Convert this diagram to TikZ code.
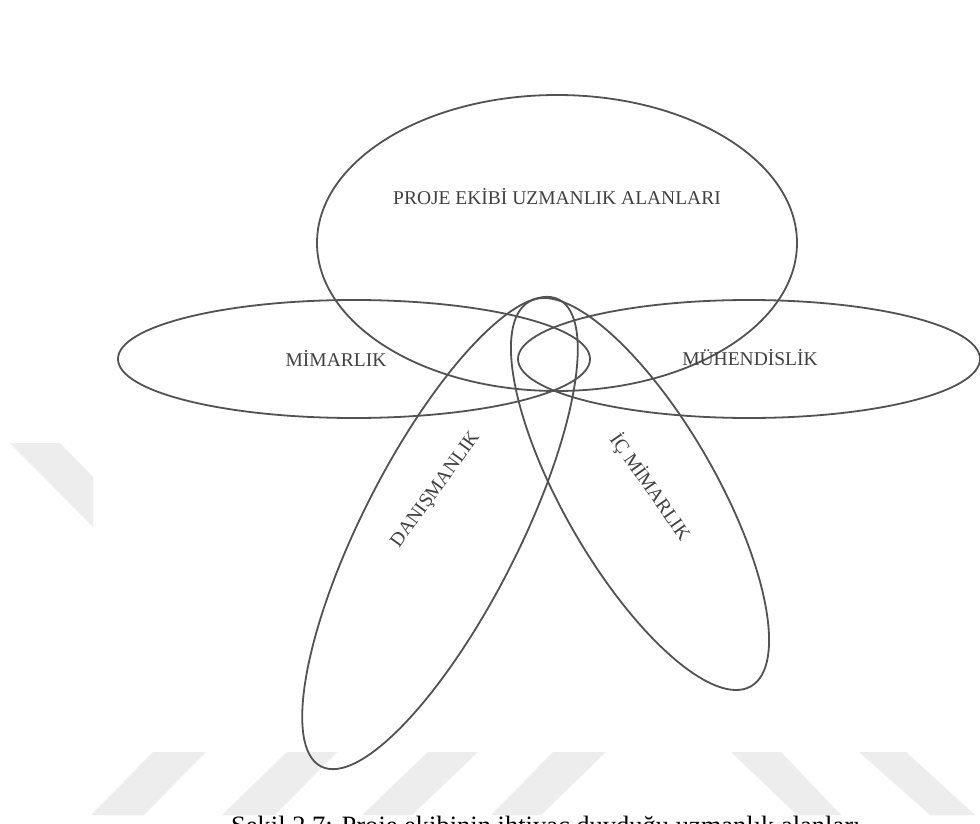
\documentclass[tikz,border=0pt]{standalone}
\usepackage{fontspec}
\setmainfont{Liberation Serif}
\usepackage{tikz}
\usetikzlibrary{calc}

\begin{document}
\begin{tikzpicture}[
    x=1pt, y=1pt,
    areaoval/.style={draw=black!68, line width=1.8pt},
    arealabel/.style={text=black!75, font=\fontsize{19.5}{23}\selectfont, inner sep=0pt},
    stripe/.style={fill=black!7, draw=none},
    captext/.style={font=\fontsize{26.5}{30}\selectfont, inner sep=0pt, anchor=base west}
  ]
    % Page frame (the caption runs past the lower edge)
    \useasboundingbox (0,0) rectangle (980,-824);
    \clip (0,0) rectangle (980,-824);
    \fill[white] (0,0) rectangle (980,-824);

    % Watermark stripes
    \fill[stripe] (10,-443) -- (60,-443) -- (93,-477) -- (93,-527) -- cycle;
    \fill[stripe] (91,-815) -- (144,-815) -- (206,-752) -- (153,-752) -- cycle;
    \fill[stripe] (222,-815) -- (275,-815) -- (337,-752) -- (287,-752) -- cycle;
    \fill[stripe] (362,-815) -- (412,-815) -- (478,-752) -- (428,-752) -- cycle;
    \fill[stripe] (491,-815) -- (541,-815) -- (606,-752) -- (553,-752) -- cycle;
    \fill[stripe] (731,-752) -- (781,-752) -- (841,-815) -- (797,-815) -- cycle;
    \fill[stripe] (859,-752) -- (906,-752) -- (975,-815) -- (930,-815) -- cycle;

    % Top area
    \draw[areaoval] (557,-243) ellipse [x radius=240, y radius=148];

    % Left and right areas
    \draw[areaoval] (354,-359) ellipse [x radius=236, y radius=59];
    \draw[areaoval] (749,-359) ellipse [x radius=231, y radius=59];

    % Tilted areas below
    \draw[areaoval, rotate around={63:(440,-533)}] (440,-533) ellipse [x radius=262, y radius=78];
    \draw[areaoval, rotate around={-60:(640,-494)}] (640,-494) ellipse [x radius=222, y radius=76];

    % Labels
    \node[arealabel] (proje) at (557,-197) {PROJE EKİBİ UZMANLIK ALANLARI};
    \node[arealabel] (mimarlik) at (336,-358) {MİMARLIK};
    \node[arealabel] (muhendislik) at (750,-358) {MÜHENDİSLİK};
    \node[arealabel, rotate=54] (danismanlik) at (436,-490) {DANIŞMANLIK};
    \node[arealabel, rotate=-55] (icmimarlik) at (650,-487) {İÇ MİMARLIK};

    % Caption
    \node[captext] (caption) at (231,-834) {Şekil 2.7: Proje ekibinin ihtiyaç duyduğu uzmanlık alanları};
  \end{tikzpicture}
\end{document}
